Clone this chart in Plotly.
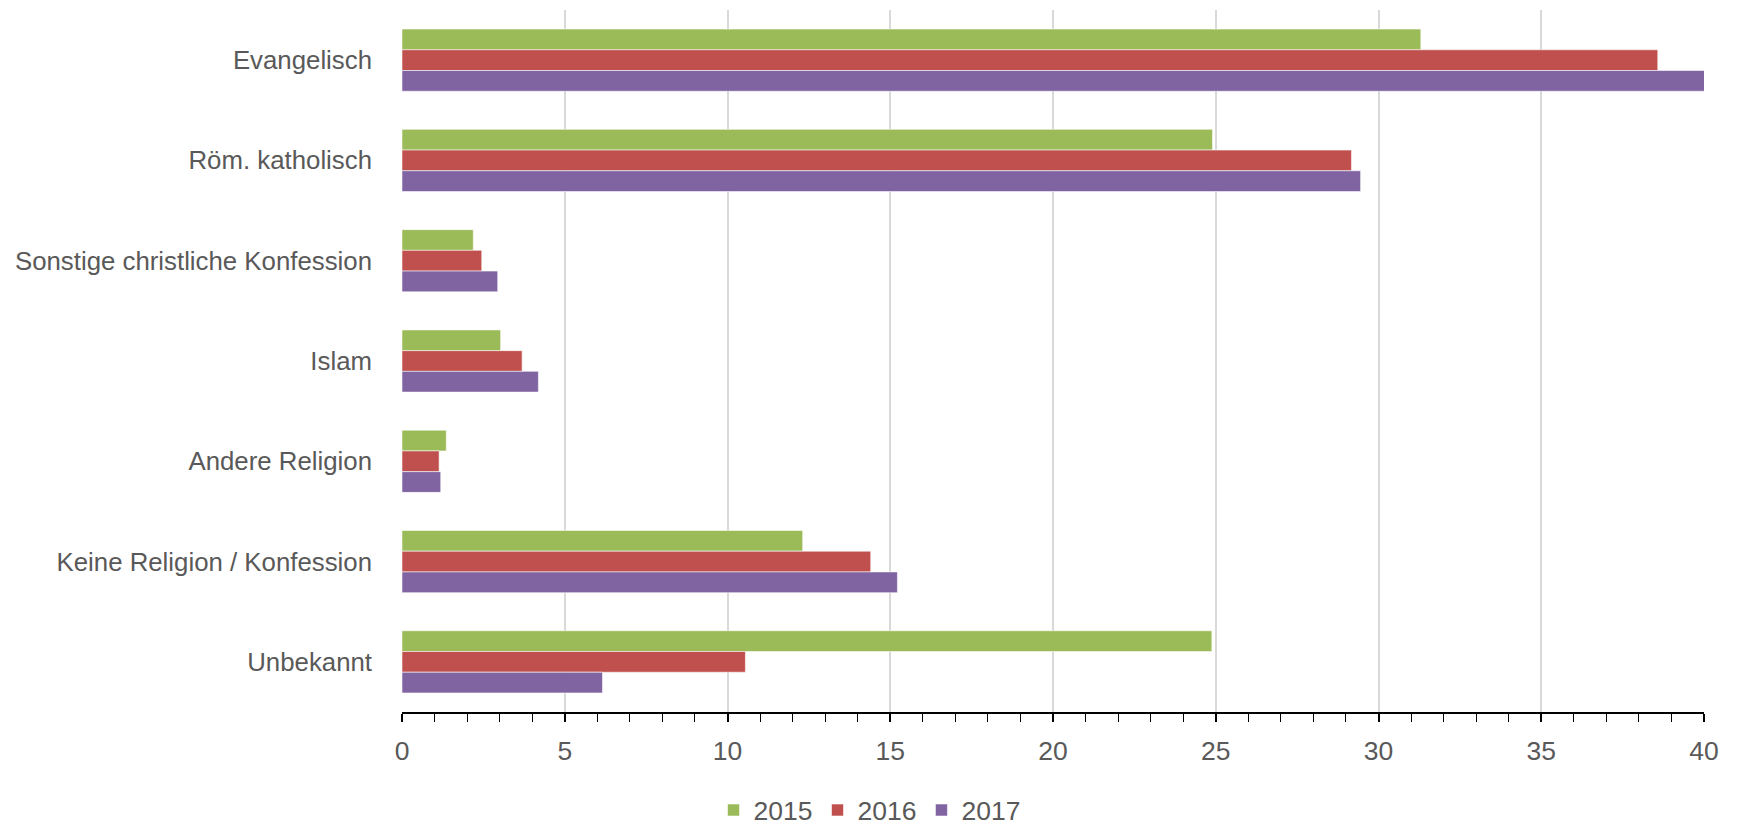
import plotly.graph_objects as go

categories = ["Evangelisch", "Röm. katholisch", "Sonstige christliche Konfession",
              "Islam", "Andere Religion", "Keine Religion / Konfession", "Unbekannt"]
years = ["2015", "2016", "2017"]
values_2015 = [31.3, 24.9, 2.19, 3.03, 1.36, 12.31, 24.88]
values_2016 = [38.58, 29.17, 2.45, 3.69, 1.14, 14.4, 10.55]
values_2017 = [40.05, 29.45, 2.94, 4.19, 1.19, 15.22, 6.16]
colors = ["#9BBB59", "#C0504D", "#8064A2"]
x_ticks = [0, 5, 10, 15, 20, 25, 30, 35, 40]

FONT = "Liberation Sans Narrow, Arial Narrow, Liberation Sans, Arial, sans-serif"
TXT = "#595959"
FS = 26.5
FS_CAT = 25.8

# the page body has an 8px default margin, so the figure is 16px smaller
W, H = 1730, 817

fig = go.Figure()
for name, vals, col in zip(years, [values_2015, values_2016, values_2017], colors):
    fig.add_trace(go.Bar(
        y=categories, x=vals, name=name, orientation="h",
        marker=dict(color=col, line=dict(color="rgba(255,255,255,0.55)", width=1)),
    ))

fig.update_layout(
    width=W, height=H,
    margin=dict(l=394, r=34, t=1.5, b=113, autoexpand=False),
    paper_bgcolor="white", plot_bgcolor="white",
    barmode="group", bargap=0.38, bargroupgap=0,
    font=dict(family=FONT, size=FS, color=TXT),
    legend=dict(orientation="h", xref="container", x=0.498, xanchor="center",
                yref="paper", y=-0.14, yanchor="middle",
                font=dict(family=FONT, size=FS, color=TXT),
                itemwidth=30, traceorder="normal"),
    showlegend=True,
)
fig.update_xaxes(
    automargin=False,
    range=[0, 40], tickvals=x_ticks, ticktext=[str(v) for v in x_ticks],
    showgrid=True, gridcolor="#D9D9D9", gridwidth=1.5,
    zeroline=False,
    showline=True, linecolor="#000000", linewidth=1.5,
    ticks="outside", ticklen=8, tickwidth=2, tickcolor="#000000",
    minor=dict(dtick=1, ticks="outside", ticklen=8, tickwidth=1.3, tickcolor="#000000", showgrid=False),
    tickfont=dict(family=FONT, size=FS, color=TXT),
    ticklabelstandoff=6,
)
fig.update_yaxes(
    automargin=False,
    autorange="reversed", showgrid=False, showline=False, ticks="",
    tickfont=dict(family=FONT, size=FS_CAT, color=TXT), ticklabelstandoff=29,
)

fig.write_html("out.html")
